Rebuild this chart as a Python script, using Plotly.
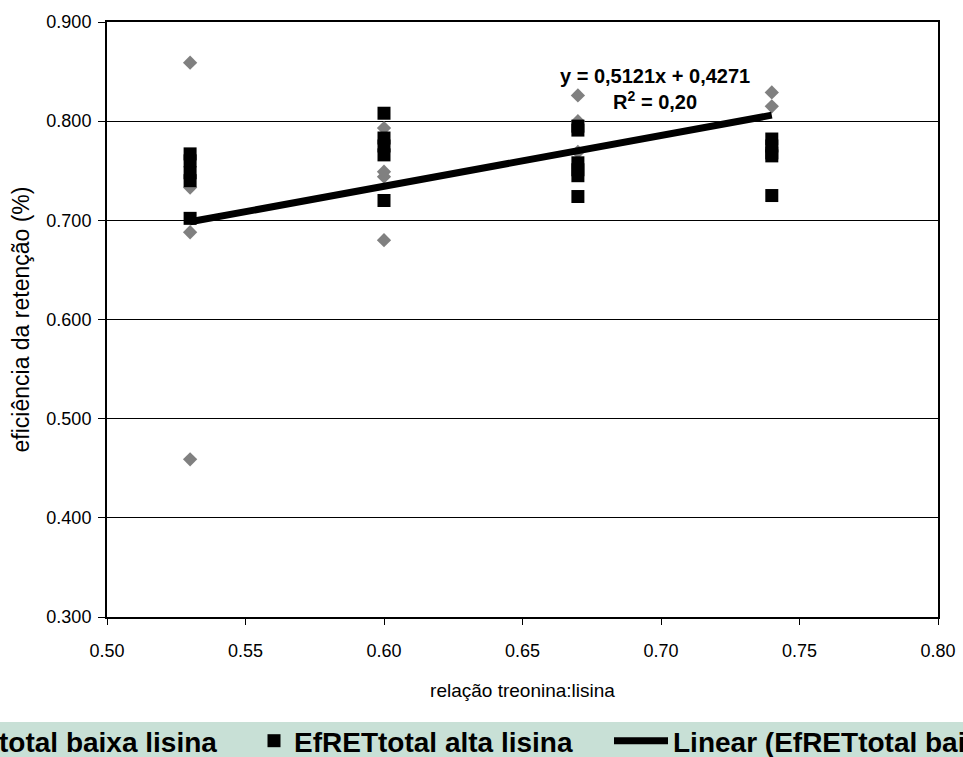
import plotly.graph_objects as go

# ---- data ----
baixa_x = [0.53, 0.53, 0.53, 0.53,
           0.60, 0.60, 0.60, 0.60,
           0.67, 0.67, 0.67,
           0.74, 0.74]
baixa_y = [0.859, 0.733, 0.688, 0.459,
           0.793, 0.749, 0.744, 0.680,
           0.826, 0.800, 0.769,
           0.829, 0.815]

alta_x = [0.53, 0.53, 0.53, 0.53, 0.53,
          0.60, 0.60, 0.60, 0.60, 0.60,
          0.67, 0.67, 0.67, 0.67, 0.67, 0.67,
          0.74, 0.74, 0.74, 0.74, 0.74]
alta_y = [0.767, 0.760, 0.748, 0.740, 0.702,
          0.808, 0.783, 0.775, 0.766, 0.720,
          0.795, 0.791, 0.758, 0.751, 0.745, 0.724,
          0.782, 0.775, 0.768, 0.765, 0.725]

trend_slope = 0.5121
trend_intercept = 0.4271
trend_x = [0.53, 0.74]
trend_y = [trend_slope * v + trend_intercept for v in trend_x]

y_ticks = [0.3, 0.4, 0.5, 0.6, 0.7, 0.8, 0.9]
x_ticks = [0.50, 0.55, 0.60, 0.65, 0.70, 0.75, 0.80]

FONT = "Liberation Sans, Arial, sans-serif"

W, H = 963, 757
ML, MR, MT, MB = 107, 25, 22, 140
PW = W - ML - MR
PH = H - MT - MB


def px_to_paper_x(px):
    return (px - ML) / PW


def px_to_paper_y(py):
    return (H - MB - py) / PH


fig = go.Figure()

fig.add_trace(go.Scatter(
    x=baixa_x, y=baixa_y, mode="markers",
    name="EfRETtotal baixa lisina",
    marker=dict(symbol="diamond", size=11, color="#808080", line=dict(width=0)),
    legend="legend", showlegend=True,
))
fig.add_trace(go.Scatter(
    x=alta_x, y=alta_y, mode="markers",
    name="EfRETtotal alta lisina",
    marker=dict(symbol="square", size=13, color="#000000", line=dict(width=0)),
    legend="legend2", showlegend=True,
))
fig.add_trace(go.Scatter(
    x=trend_x, y=trend_y, mode="lines",
    name="Linear (EfRETtotal baixa lisina)",
    line=dict(color="#000000", width=7),
    legend="legend3", showlegend=True,
))

# legend band
fig.add_shape(type="rect", xref="paper", yref="paper",
              x0=px_to_paper_x(0), x1=px_to_paper_x(W),
              y0=px_to_paper_y(722), y1=px_to_paper_y(H),
              fillcolor="#c8e0d6", line=dict(width=0), layer="below")

fig.add_annotation(
    x=0.6978, y=0.8324, xref="x", yref="y",
    text="y = 0,5121x + 0,4271<br>R<sup>2</sup> = 0,20",
    showarrow=False, align="center",
    font=dict(family=FONT, size=20, color="#000000", weight="bold"),
)

leg_font = dict(family=FONT, size=28, color="#000000", weight="bold")
leg_y = px_to_paper_y(741)

fig.update_layout(
    width=W, height=H,
    showlegend=True,
    margin=dict(l=ML, r=MR, t=MT, b=MB, autoexpand=False),
    paper_bgcolor="#ffffff",
    plot_bgcolor="#ffffff",
    font=dict(family=FONT, size=18, color="#000000"),
    legend=dict(x=px_to_paper_x(-125), xanchor="left", y=leg_y, yanchor="middle",
                bgcolor="rgba(0,0,0,0)", font=leg_font, orientation="h"),
    legend2=dict(x=px_to_paper_x(254), xanchor="left", y=leg_y, yanchor="middle",
                 bgcolor="rgba(0,0,0,0)", font=leg_font, orientation="h"),
    legend3=dict(x=px_to_paper_x(609), xanchor="left", y=leg_y, yanchor="middle",
                 bgcolor="rgba(0,0,0,0)", font=leg_font, orientation="h", itemwidth=54),
    xaxis=dict(
        range=[0.5, 0.8], tickvals=x_ticks, ticktext=[f"{v:.2f}" for v in x_ticks],
        showgrid=False, zeroline=False,
        showline=True, linecolor="#000000", linewidth=2, mirror=True,
        ticks="outside", ticklen=6, tickcolor="#000000",
        ticklabelstandoff=10,
        title=dict(text="relação treonina:lisina", font=dict(size=19), standoff=24),
        tickfont=dict(size=18),
    ),
    yaxis=dict(
        range=[0.3, 0.9], tickvals=y_ticks, ticktext=[f"{v:.3f}" for v in y_ticks],
        showgrid=True, gridcolor="#000000", gridwidth=1, zeroline=False,
        showline=True, linecolor="#000000", linewidth=2, mirror=True,
        ticks="outside", ticklen=7, tickcolor="#000000",
        ticklabelstandoff=3,
        title=dict(text="eficiência da retenção (%)", font=dict(size=23), standoff=10),
        tickfont=dict(size=18),
    ),
)

fig.write_html("out.html")
